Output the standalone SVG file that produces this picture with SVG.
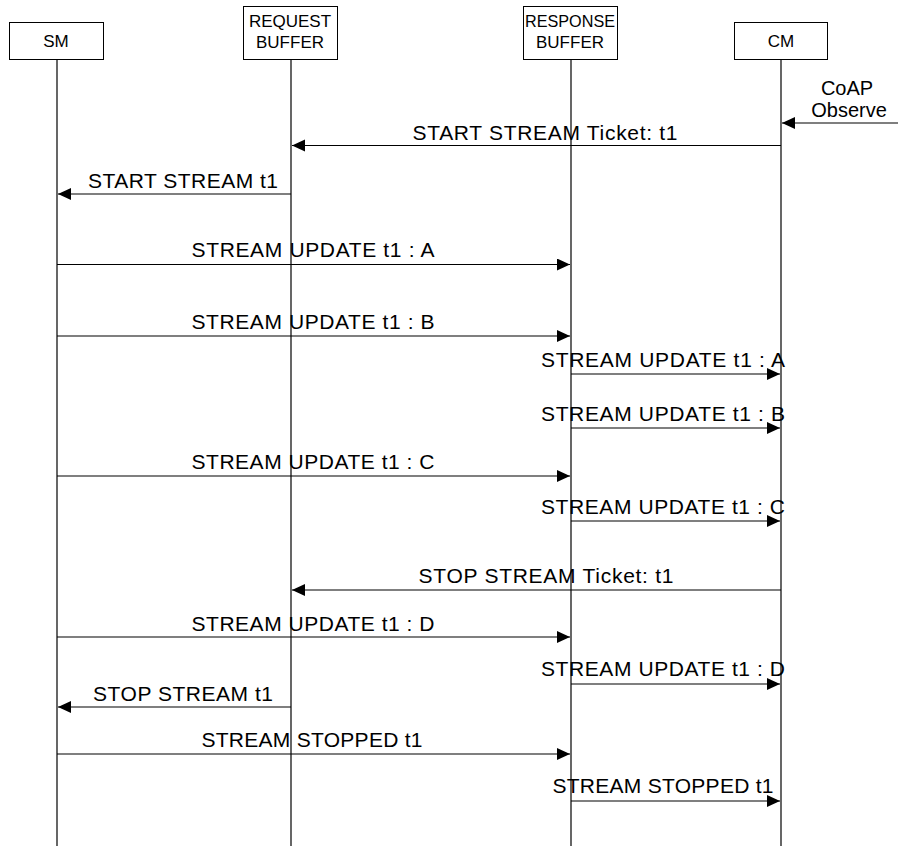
<svg xmlns="http://www.w3.org/2000/svg" width="898" height="846" viewBox="0 0 898 846">
<style>
.box{fill:#fff;stroke:#000;stroke-width:1}
.life{stroke:#000;stroke-width:1.2;fill:none}
.msg{stroke:#000;stroke-width:1.2;fill:none;marker-end:url(#ah)}
.nt{font-family:"Liberation Sans",Arial,sans-serif;font-size:17px;fill:#000;text-anchor:middle}
.lt{font-family:"Liberation Sans",Arial,sans-serif;font-size:21px;fill:#000;text-anchor:middle}
</style>
<defs>
<marker id="ah" markerUnits="userSpaceOnUse" markerWidth="14" markerHeight="13" refX="13" refY="6" orient="auto">
<path d="M0,0 L13,6 L0,12 z" fill="#000"/>
</marker>
</defs>
<rect width="898" height="846" fill="#fff"/>
<g id="node-sm">
<rect class="box" x="9.5" y="22.5" width="94" height="37"/>
<text class="nt" x="56" y="47">SM</text>
<line class="life" x1="57" y1="59.5" x2="57" y2="846"/>
</g>
<g id="node-request-buffer">
<rect class="box" x="243.5" y="6.5" width="94" height="53"/>
<text class="nt" x="290" y="27">REQUEST</text>
<text class="nt" x="290" y="48">BUFFER</text>
<line class="life" x1="291" y1="59.5" x2="291" y2="846"/>
</g>
<g id="node-response-buffer">
<rect class="box" x="523.5" y="6.5" width="94" height="53"/>
<text class="nt" x="570" y="27" textLength="90" lengthAdjust="spacingAndGlyphs">RESPONSE</text>
<text class="nt" x="570" y="48">BUFFER</text>
<line class="life" x1="571" y1="59.5" x2="571" y2="846"/>
</g>
<g id="node-cm">
<rect class="box" x="734.5" y="22.5" width="93" height="37"/>
<text class="nt" x="781" y="47">CM</text>
<line class="life" x1="781" y1="59.5" x2="781" y2="846"/>
</g>
<g id="connectors">
<line class="msg" x1="898" y1="123" x2="782" y2="123"/>
<text class="lt" x="847" y="95" style="font-size:20px">CoAP</text>
<text class="lt" x="849" y="117" style="font-size:20px">Observe</text>

<line class="msg" x1="781" y1="145.5" x2="292" y2="145.5"/>
<text class="lt" x="545" y="140" textLength="265">START STREAM Ticket: t1</text>

<line class="msg" x1="291" y1="194" x2="58" y2="194"/>
<text class="lt" x="183" y="188" textLength="190">START STREAM t1</text>

<line class="msg" x1="57" y1="264.5" x2="570" y2="264.5"/>
<text class="lt" x="313" y="257" textLength="243">STREAM UPDATE t1 : A</text>

<line class="msg" x1="57" y1="336" x2="570" y2="336"/>
<text class="lt" x="313" y="329" textLength="243">STREAM UPDATE t1 : B</text>

<line class="msg" x1="571" y1="374" x2="780" y2="374"/>
<text class="lt" x="663" y="367" textLength="244">STREAM UPDATE t1 : A</text>

<line class="msg" x1="571" y1="428" x2="780" y2="428"/>
<text class="lt" x="663" y="421" textLength="244">STREAM UPDATE t1 : B</text>

<line class="msg" x1="57" y1="476" x2="570" y2="476"/>
<text class="lt" x="313" y="469" textLength="243">STREAM UPDATE t1 : C</text>

<line class="msg" x1="571" y1="521" x2="780" y2="521"/>
<text class="lt" x="663" y="514" textLength="244">STREAM UPDATE t1 : C</text>

<line class="msg" x1="781" y1="590" x2="292" y2="590"/>
<text class="lt" x="546" y="583" textLength="255">STOP STREAM Ticket: t1</text>

<line class="msg" x1="57" y1="637" x2="570" y2="637"/>
<text class="lt" x="313" y="631" textLength="243">STREAM UPDATE t1 : D</text>

<line class="msg" x1="571" y1="684" x2="780" y2="684"/>
<text class="lt" x="663" y="676" textLength="244">STREAM UPDATE t1 : D</text>

<line class="msg" x1="291" y1="707" x2="58" y2="707"/>
<text class="lt" x="183" y="701" textLength="180">STOP STREAM t1</text>

<line class="msg" x1="57" y1="754" x2="570" y2="754"/>
<text class="lt" x="312" y="747" textLength="221">STREAM STOPPED t1</text>

<line class="msg" x1="571" y1="801" x2="780" y2="801"/>
<text class="lt" x="663" y="793" textLength="221">STREAM STOPPED t1</text>
</g>
</svg>
